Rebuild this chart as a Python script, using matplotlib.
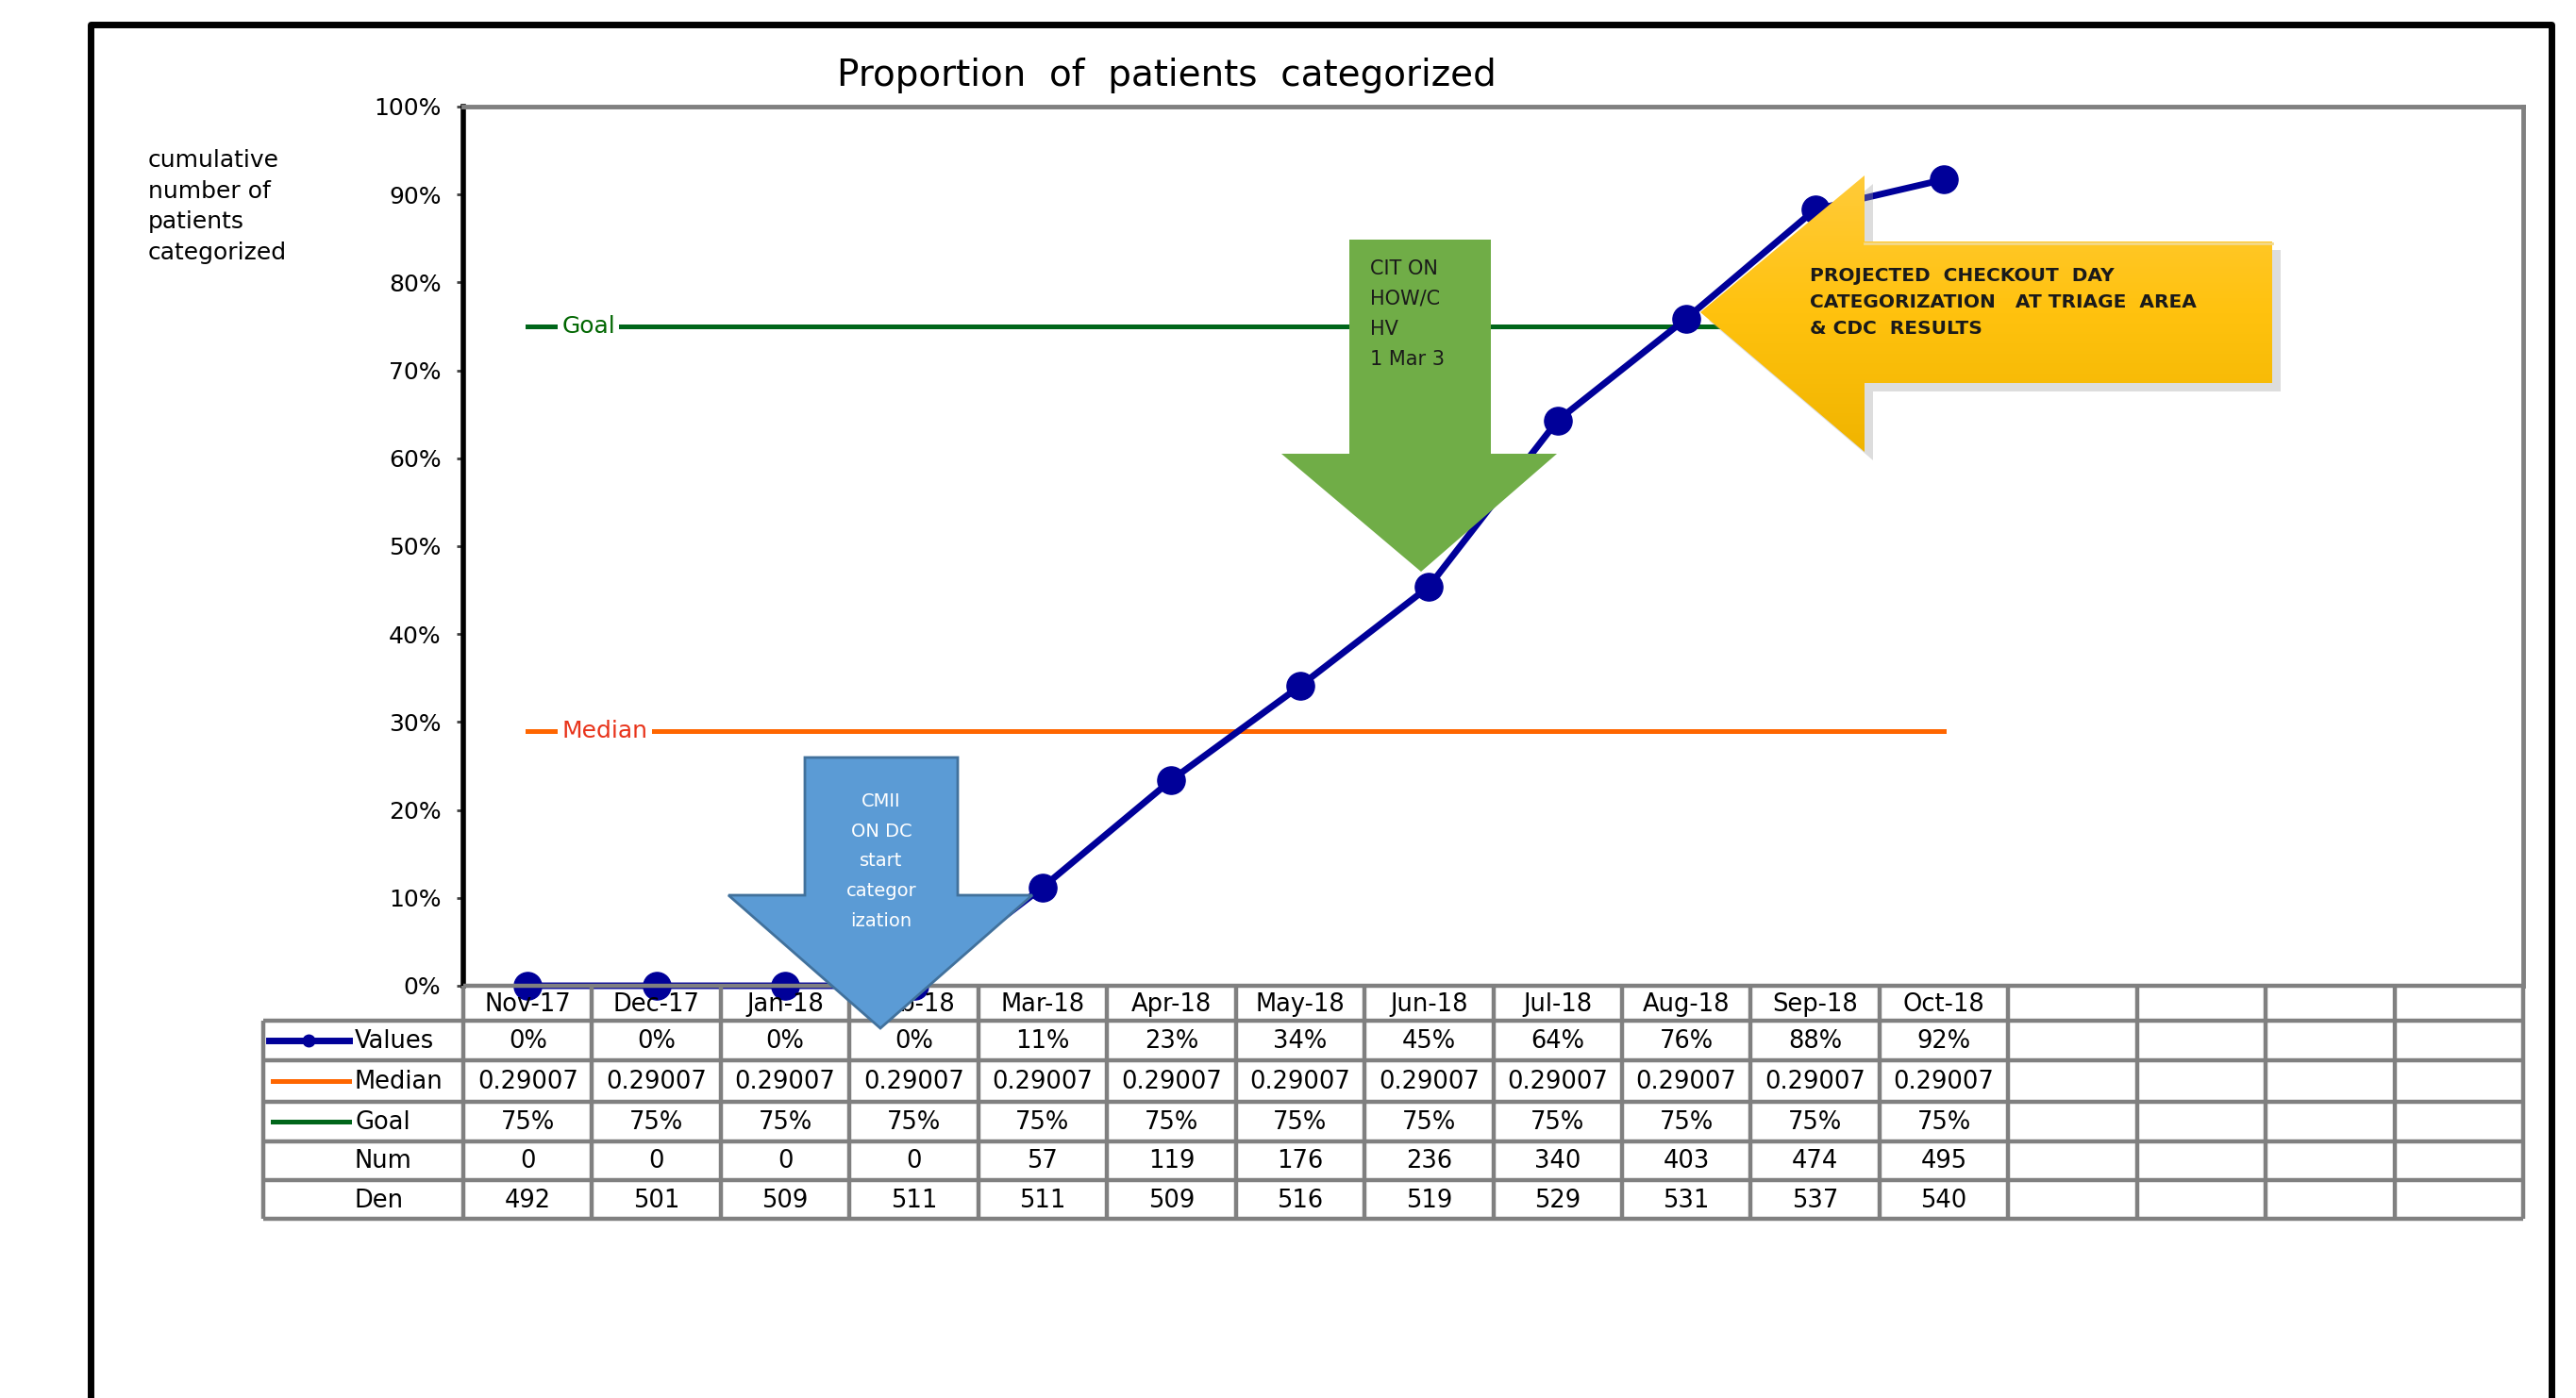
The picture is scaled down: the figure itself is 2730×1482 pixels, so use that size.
import matplotlib
matplotlib.use('Agg')
import matplotlib.pyplot as plt
from matplotlib.patches import Polygon
import numpy as np

# data
months = ['Nov-17', 'Dec-17', 'Jan-18', 'Feb-18', 'Mar-18', 'Apr-18',
          'May-18', 'Jun-18', 'Jul-18', 'Aug-18', 'Sep-18', 'Oct-18']
values = [0.0, 0.0, 0.0, 0.0, 0.112, 0.234, 0.341, 0.454, 0.643, 0.759, 0.883, 0.917]
median = [0.29007] * 12
goal = [0.75] * 12
num = [0, 0, 0, 0, 57, 119, 176, 236, 340, 403, 474, 495]
den = [492, 501, 509, 511, 511, 509, 516, 519, 529, 531, 537, 540]
n_cols = 16  # 4 empty columns at the right of the table
yticks = [i / 10 for i in range(11)]

plt.rcParams['font.family'] = ['DejaVu Sans']

W, H = 2730, 1482
fig = plt.figure(figsize=(W / 100, H / 100), dpi=100)


def fbox(l, t, r, b):
    return [l / W, 1 - b / H, (r - l) / W, (b - t) / H]


navy = '#000099'
orange = '#FF6600'
green = '#00661A'
grid = '#808080'

# --- chart ---
ax = fig.add_axes(fbox(491, 113, 2674, 1045))
x = np.arange(len(months))
ax.plot(x, goal, color=green, lw=3.6, zorder=2)
ax.plot(x, median, color=orange, lw=3.6, zorder=2)
ax.plot(x, values, color=navy, lw=5, marker='o', ms=21, clip_on=False, zorder=4)
ax.annotate('Goal', xy=(0, goal[0]), xytext=(26, 0), textcoords='offset points',
            ha='left', va='center', fontsize=18, color='#006600',
            bbox=dict(fc='white', ec='none', pad=3), zorder=3)
ax.annotate('Median', xy=(0, median[0]), xytext=(26, 0), textcoords='offset points',
            ha='left', va='center', fontsize=18, color='#E8331A',
            bbox=dict(fc='white', ec='none', pad=3), zorder=3)

ax.set_xlim(-0.5, n_cols - 0.5)
ax.set_ylim(0, 1)
ax.set_xticks([])
ax.set_yticks(yticks)
ax.set_yticklabels([f'{t:.0%}' for t in yticks])
ax.tick_params(axis='y', length=5, width=2, color='#404040', pad=12, labelsize=18)
ax.spines['bottom'].set_visible(False)
ax.spines['left'].set_color('black')
ax.spines['left'].set_linewidth(4)
for s in ['top', 'right']:
    ax.spines[s].set_color(grid)
    ax.spines[s].set_linewidth(3.5)

# --- data table under the chart ---
col_w = (2674 - 491) / n_cols
tx = lambda p: -0.5 + (p - 491) / col_w
tab = fig.add_axes(fbox(279, 1045, 2674, 1292))
tab.set_xlim(tx(279), n_cols - 0.5)
tab.set_ylim(1292, 1045)
tab.axis('off')
rows = [1045, 1082, 1124, 1168, 1210, 1251, 1292]
lw_t = 3.2
tab.hlines(rows[0], -0.5, n_cols - 0.5, color=grid, lw=lw_t, clip_on=False)
tab.hlines(rows[1:], tx(279), n_cols - 0.5, color=grid, lw=lw_t, clip_on=False)
tab.vlines(np.arange(n_cols + 1) - 0.5, rows[0], rows[-1], color=grid, lw=lw_t, clip_on=False)
tab.vlines(tx(279), rows[1], rows[-1], color=grid, lw=lw_t, clip_on=False)

centers = [(a + b) / 2 for a, b in zip(rows[:-1], rows[1:])]
cells = [
    months,
    [f'{v:.0%}' for v in values],
    [f'{m:.5f}' for m in median],
    [f'{g:.0%}' for g in goal],
    [str(n) for n in num],
    [str(d) for d in den],
]
for r, row in enumerate(cells):
    for i, s in enumerate(row):
        tab.text(i, centers[r] + 1, s, ha='center', va='center', fontsize=18.5)

labels = ['Values', 'Median', 'Goal', 'Num', 'Den']
for r, lab in enumerate(labels):
    tab.text(tx(376), centers[r + 1] + 1, lab, ha='left', va='center', fontsize=18.5)
tab.plot([tx(285), tx(370)], [centers[1]] * 2, color=navy, lw=5, clip_on=False)
tab.plot([tx(327)], [centers[1]], color=navy, marker='o', ms=9, clip_on=False)
tab.plot([tx(289), tx(370)], [centers[2]] * 2, color=orange, lw=3.6, clip_on=False)
tab.plot([tx(289), tx(370)], [centers[3]] * 2, color=green, lw=3.6, clip_on=False)

# --- overlay in pixel coordinates: frame, titles, callout arrows ---
ov = fig.add_axes([0, 0, 1, 1], zorder=10)
ov.set_xlim(0, W)
ov.set_ylim(H, 0)
ov.axis('off')
ov.patch.set_alpha(0)

ov.plot([96, 96, 2704, 2704], [1600, 26, 26, 1600], color='black', lw=5, clip_on=False)
ov.text(1236, 80, 'Proportion  of  patients  categorized', ha='center', va='center', fontsize=28)
ov.text(157, 158, 'cumulative\nnumber of\npatients\ncategorized', ha='left', va='top',
        fontsize=18, linespacing=1.45)

# blue arrow
blue = [(853, 803), (1015, 803), (1015, 949), (1094, 949), (933, 1090), (772, 949), (853, 949)]
ov.add_patch(Polygon(blue, closed=True, fc='#5B9BD5', ec='#41719C', lw=2))
ov.text(934, 913, 'CMII\nON DC\nstart\ncategor\nization', ha='center', va='center',
        fontsize=14, color='white', linespacing=1.85)

# green arrow
grn = [(1430, 254), (1580, 254), (1580, 481), (1650, 481), (1506, 606), (1358, 481), (1430, 481)]
ov.add_patch(Polygon(grn, closed=True, fc='#70AD47', ec='none'))
ov.text(1452, 333, 'CIT ON\nHOW/C\nHV\n1 Mar 3', ha='left', va='center',
        fontsize=15, color='#1a1a1a', linespacing=1.75)

# yellow arrow with shadow and vertical gradient
yel = [(1802, 331), (1976, 186), (1976, 256), (2408, 256), (2408, 406), (1976, 406), (1976, 479)]
ov.add_patch(Polygon([(px + 9, py + 9) for px, py in yel], closed=True,
                     fc='#a0a0a0', ec='none', alpha=0.35))
yp = Polygon(yel, closed=True, fc='none', ec='none')
ov.add_patch(yp)
grad = np.linspace(0, 1, 256)[:, None]
cmap = matplotlib.colors.LinearSegmentedColormap.from_list('y', ['#FFCB3A', '#FFC20E', '#F0B400'])
im = ov.imshow(grad, cmap=cmap, extent=(1800, 2410, 481, 184), aspect='auto', zorder=1)
im.set_clip_path(yp)
ov.plot([1976, 2408], [258, 258], color='#F3D98A', lw=2, zorder=2)
ov.text(1918, 320, 'PROJECTED  CHECKOUT  DAY\nCATEGORIZATION   AT TRIAGE  AREA\n& CDC  RESULTS',
        ha='left', va='center', fontsize=14.5, fontweight='bold', color='#1a1a1a',
        linespacing=1.6, zorder=3)

fig.savefig('out.png', dpi=100)
